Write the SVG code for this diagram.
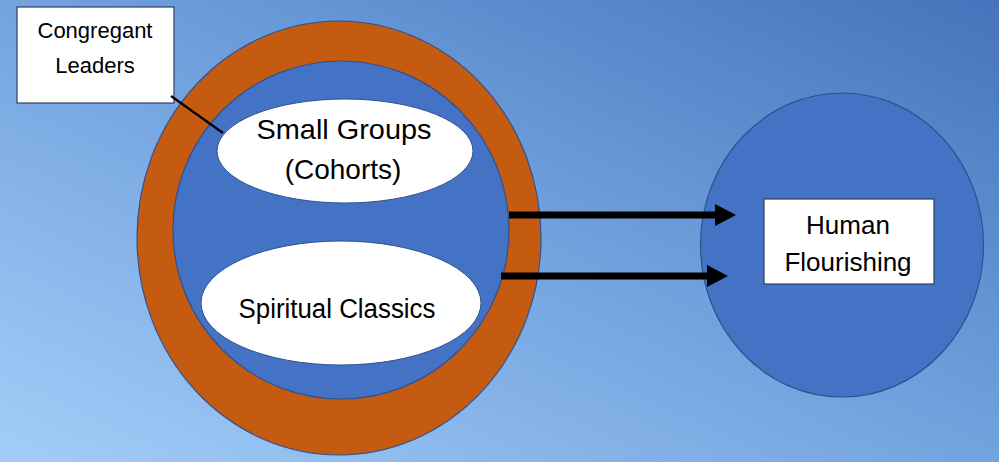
<svg xmlns="http://www.w3.org/2000/svg" width="999" height="462" viewBox="0 0 999 462">
  <defs>
    <linearGradient id="bg" x1="0" y1="1" x2="1" y2="0">
      <stop offset="0" stop-color="#a3cdf8"/>
      <stop offset="0.55" stop-color="#6e9fdc"/>
      <stop offset="1" stop-color="#4673bb"/>
    </linearGradient>
    <marker id="head" markerUnits="userSpaceOnUse" markerWidth="22" markerHeight="23" refX="0" refY="11" orient="auto" viewBox="0 0 22 22">
      <path d="M0,0 L21,11 L0,22 Z" fill="#000"/>
    </marker>
  </defs>
  <style>
    .blue { fill: #4472c4; stroke: #2f528f; stroke-width: 1.2; }
    .orange { fill: #c55a11; stroke: #2f528f; stroke-width: 1.2; }
    .white { fill: #ffffff; stroke: #2f528f; stroke-width: 1; }
    .box { fill: #ffffff; stroke: #2f3f5f; stroke-width: 1.2; }
    .t { font-family: "Liberation Sans", Arial, sans-serif; fill: #000; text-anchor: middle; }
    .arrow { stroke: #000; stroke-width: 7; fill: none; marker-end: url(#head); }
  </style>
  <rect x="0" y="0" width="999" height="462" fill="url(#bg)"/>

  <g id="outer-ring">
    <ellipse class="orange" cx="339" cy="238" rx="202" ry="217"/>
  </g>
  <g id="inner-circle">
    <ellipse class="blue" cx="341" cy="230" rx="168" ry="169"/>
  </g>
  <g id="small-groups">
    <ellipse class="white" cx="345" cy="151" rx="128" ry="52"/>
    <text class="t" x="344" y="139" font-size="28" textLength="175" lengthAdjust="spacingAndGlyphs">Small Groups</text>
    <text class="t" x="343" y="179" font-size="28">(Cohorts)</text>
  </g>
  <g id="spiritual-classics">
    <ellipse class="white" cx="341" cy="303" rx="140" ry="62"/>
    <text class="t" x="337" y="318" font-size="27" textLength="197" lengthAdjust="spacingAndGlyphs">Spiritual Classics</text>
  </g>
  <g id="human-flourishing-circle">
    <ellipse class="blue" cx="842" cy="245" rx="141.5" ry="152"/>
  </g>
  <g id="human-flourishing">
    <rect class="box" x="764" y="199" width="170" height="85"/>
    <text class="t" x="848" y="234" font-size="26">Human</text>
    <text class="t" x="848" y="271" font-size="26">Flourishing</text>
  </g>
  <g id="congregant-leaders">
    <rect class="box" x="17" y="7" width="157" height="96"/>
    <text class="t" x="95" y="38" font-size="22">Congregant</text>
    <text class="t" x="95" y="73" font-size="22">Leaders</text>
  </g>

  <g id="connectors">
    <line x1="171" y1="96" x2="223" y2="133" stroke="#000" stroke-width="2.2"/>
    <line class="arrow" x1="509" y1="215" x2="715" y2="215"/>
    <line class="arrow" x1="501" y1="276" x2="707" y2="276"/>
  </g>
</svg>
